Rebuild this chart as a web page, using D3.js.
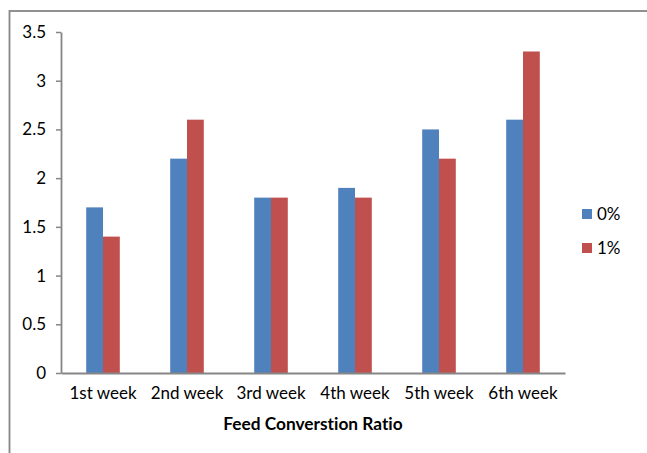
<!DOCTYPE html>
<html>
<head>
<meta charset="utf-8">
<script src="https://cdn.jsdelivr.net/npm/d3@7"></script>
<style>
  html, body { margin: 0; padding: 0; background: #fff; }
  svg { display: block; }
  text { font-family: Lato, "Open Sans", sans-serif; fill: #000; font-variant-ligatures: none; }
</style>
</head>
<body>
<svg id="chart" width="647" height="453"></svg>
<script>
// Feed conversion ratio per week, by supplement level
const weeks = ["1st week", "2nd week", "3rd week", "4th week", "5th week", "6th week"];
const seriesNames = ["0%", "1%"];
const values0 = [1.7, 2.2, 1.8, 1.9, 2.5, 2.6];
const values1 = [1.4, 2.6, 1.8, 1.8, 2.2, 3.3];
const yTicks = [0, 0.5, 1, 1.5, 2, 2.5, 3, 3.5];
const colors = ["#4F81BD", "#C0504D"];
const axisTitle = "Feed Converstion Ratio";

const svg = d3.select("#chart");
const axisColor = "#868686";

// Chart frame (top and left edges visible inside the page)
svg.append("rect")
  .attr("x", 9.5).attr("y", 11)
  .attr("width", 700).attr("height", 500)
  .attr("fill", "none")
  .attr("stroke", axisColor)
  .attr("stroke-width", 1.8);

const plot = { left: 61, right: 565, top: 32, bottom: 373 };

const x = d3.scaleBand()
  .domain(weeks)
  .range([plot.left, plot.right])
  .paddingInner(0.6)
  .paddingOuter(0.3);

const xSub = d3.scaleBand()
  .domain(seriesNames)
  .range([0, x.bandwidth()]);

const y = d3.scaleLinear()
  .domain([0, 3.5])
  .range([plot.bottom, plot.top]);

const data = weeks.map((w, i) => ({ week: w, vals: [values0[i], values1[i]] }));

// Bars
const groups = svg.append("g").selectAll("g")
  .data(data)
  .join("g")
  .attr("transform", d => `translate(${x(d.week)},0)`);

groups.selectAll("rect")
  .data(d => d.vals.map((v, j) => ({ name: seriesNames[j], v, j })))
  .join("rect")
  .attr("x", d => xSub(d.name))
  .attr("width", xSub.bandwidth())
  .attr("y", d => y(d.v))
  .attr("height", d => y(0) - y(d.v))
  .attr("fill", d => colors[d.j]);

// Y axis
const yAxis = svg.append("g")
  .attr("transform", `translate(${plot.left},0)`)
  .call(d3.axisLeft(y).tickValues(yTicks).tickFormat(d3.format("")).tickSize(5).tickSizeOuter(0).tickPadding(10));
yAxis.select(".domain").attr("stroke", axisColor).attr("stroke-width", 1.8);
yAxis.selectAll(".tick line").attr("stroke", axisColor).attr("stroke-width", 1.5);
yAxis.selectAll(".tick text").style("font-size", "17px").style("font-family", "Lato, 'Open Sans', sans-serif").attr("fill", "#000");

// X axis
const xAxis = svg.append("g")
  .attr("transform", `translate(0,${plot.bottom})`)
  .call(d3.axisBottom(x).tickSize(0).tickSizeOuter(0).tickPadding(14));
xAxis.select(".domain").attr("stroke", axisColor).attr("stroke-width", 1.8);
xAxis.selectAll(".tick text").style("font-size", "17px").style("font-family", "Lato, 'Open Sans', sans-serif").attr("fill", "#000");

// Axis title
svg.append("text")
  .attr("x", (plot.left + plot.right) / 2)
  .attr("y", 430)
  .attr("text-anchor", "middle")
  .style("font-size", "17.3px")
  .style("font-weight", "bold")
  .text(axisTitle);

// Legend
const legend = svg.append("g")
  .selectAll("g")
  .data(seriesNames)
  .join("g")
  .attr("transform", (d, i) => `translate(582,${214 + i * 34})`);
legend.append("rect")
  .attr("x", 0).attr("y", -5)
  .attr("width", 10).attr("height", 10)
  .attr("fill", (d, i) => colors[i]);
legend.append("text")
  .attr("x", 15).attr("y", 0)
  .attr("dy", "0.36em")
  .style("font-size", "17px")
  .text(d => d);
</script>
</body>
</html>
